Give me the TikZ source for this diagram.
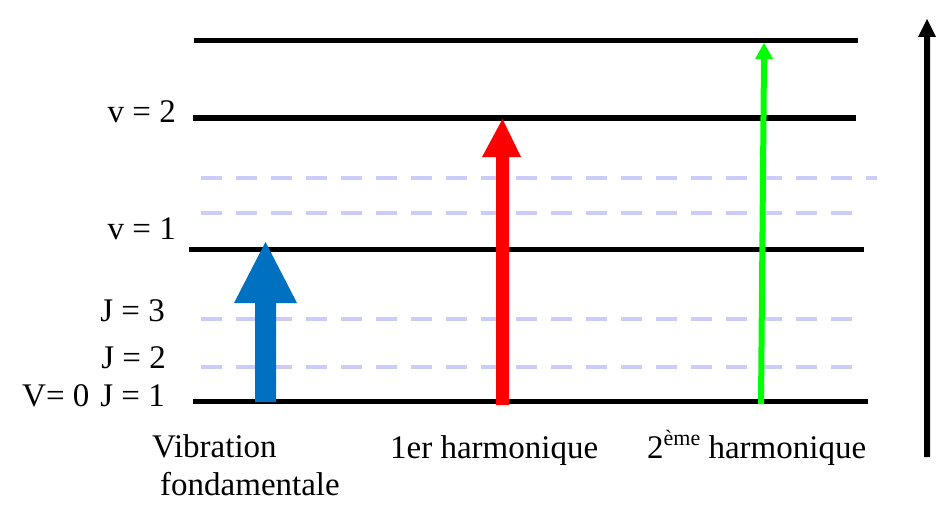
\documentclass[tikz,border=0pt]{standalone}
\usepackage{fontspec}
\setmainfont{Liberation Serif}
\definecolor{lav}{RGB}{204,204,250}
\definecolor{fblue}{RGB}{0,112,192}
\definecolor{fred}{RGB}{255,0,0}
\definecolor{fgreen}{RGB}{0,255,0}
\begin{document}
\begin{tikzpicture}[x=1pt,y=-1pt,
  level/.style={line width=5pt,black},
  rotlevel/.style={line width=4.5pt,lav,dash pattern=on 21pt off 14pt},
  lbl/.style={font=\fontsize{33}{38}\selectfont,inner sep=0pt}]
\useasboundingbox (0,0) rectangle (946,527);
% vibrational levels
\coordinate (t0) at (194,41);  \coordinate (t1) at (858,41);
\coordinate (a0) at (193,118); \coordinate (a1) at (856,118);
\coordinate (b0) at (189,249); \coordinate (b1) at (864,249);
\coordinate (g0) at (193,401); \coordinate (g1) at (868,401);
\draw[level] (t0) -- (t1);
\draw[level] (a0) -- (a1);
\draw[level] (b0) -- (b1);
\draw[level] (g0) -- (g1);
% rotational levels
\coordinate (r1a) at (201,178); \coordinate (r1b) at (877,178);
\coordinate (r2a) at (201,213); \coordinate (r2b) at (852,213);
\coordinate (r3a) at (201,319); \coordinate (r3b) at (852,319);
\coordinate (r4a) at (201,367); \coordinate (r4b) at (852,367);
\draw[rotlevel] (r1a) -- (r1b);
\draw[rotlevel] (r2a) -- (r2b);
\draw[rotlevel] (r3a) -- (r3b);
\draw[rotlevel] (r4a) -- (r4b);
% blue arrow
\fill[fblue] (255,402) -- (276,402) -- (276,303) -- (297,303) -- (265.5,242) -- (234,303) -- (255,303) -- cycle;
% red arrow
\fill[fred] (496,405) -- (509,405) -- (509,157) -- (521,157) -- (502.5,119) -- (482,157) -- (496,157) -- cycle;
% green arrow
\fill[fgreen] (758,404) -- (764,404) -- (767,59) -- (773,59) -- (764,43) -- (755,59) -- (761,59) -- cycle;
% energy axis
\fill[black] (924,457) -- (930,457) -- (930,37) -- (936,37) -- (927,19) -- (918,37) -- (924,37) -- cycle;
% labels
\node[lbl,anchor=base east] (lv2) at (176,123) {v = 2};
\node[lbl,anchor=base east] (lv1) at (176,239) {v = 1};
\node[lbl,anchor=base east] (lj3) at (165,321) {J = 3};
\node[lbl,anchor=base east] (lj2) at (166,368) {J = 2};
\node[lbl,anchor=base east] (lj1) at (165,406) {J = 1};
\node[lbl,anchor=base west] (lv0) at (22,406) {V= 0};
\node[lbl,anchor=base west] (n1) at (152,457) {Vibration};
\node[lbl,anchor=base west] (n2) at (160,495) {fondamentale};
\node[lbl,anchor=base west] (n3) at (390,458) {1er harmonique};
\node[lbl,anchor=base west] (n4) at (647,458) {2\raisebox{13pt}{\fontsize{22}{22}\selectfont ème} harmonique};
\end{tikzpicture}
\end{document}
